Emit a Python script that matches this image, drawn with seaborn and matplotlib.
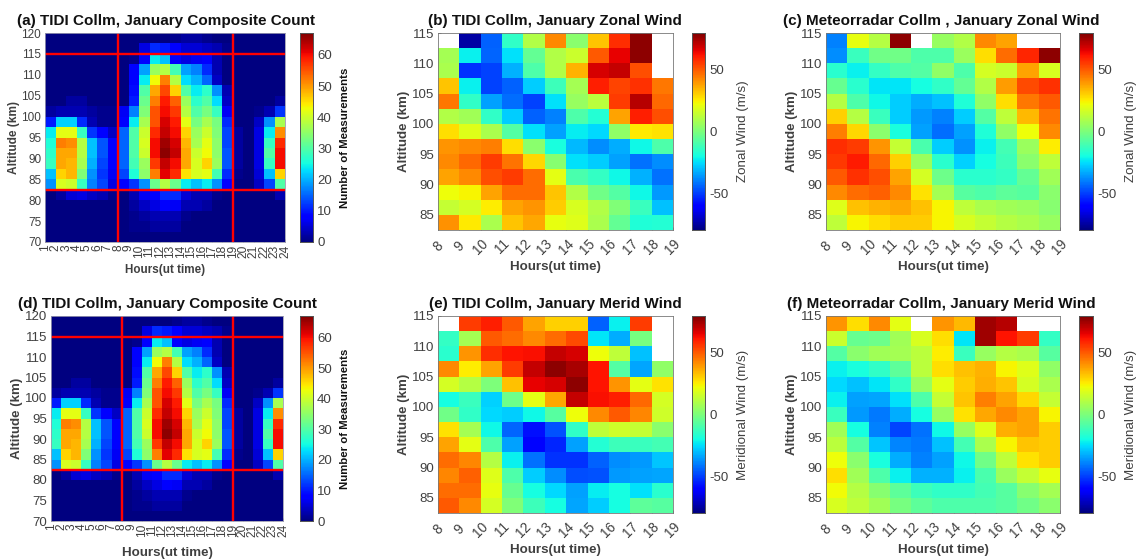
import numpy as np
import matplotlib
matplotlib.use("Agg")
import matplotlib.pyplot as plt
import seaborn as sns

sns.set_style("white")
plt.rcParams['font.family'] = ['Liberation Sans', 'DejaVu Sans']

n = np.nan
hours_count = list(range(1, 25))
hours_wind = list(range(8, 20))
alt_count_edges = [120 - 2.5 * i for i in range(21)]
alt_wind_edges = [115 - 2.5 * i for i in range(14)]
alt_count_ticks = [70, 75, 80, 85, 90, 95, 100, 105, 110, 115, 120]
alt_wind_ticks = [85, 90, 95, 100, 105, 110, 115]
red_hours = [8, 19]
red_alts = [82.5, 115]

# rows run from the top altitude bin downwards; 23 columns of 1-hour bins
count = [
 [0,0,0,0,0,0,0,0,0,0,0,0,1,2,2,1,0,0,0,0,0,0,0],
 [0,0,0,0,0,0,0,0,0,6,11,10,8,5,5,4,3,1,0,0,0,0,0],
 [0,0,0,0,0,0,0,0,1,8,24,21,8,6,7,8,3,0,0,0,0,0,0],
 [0,0,0,0,0,0,0,0,8,19,36,38,29,19,17,11,3,0,0,0,0,0,0],
 [0,0,0,0,0,0,0,0,8,24,43,52,38,23,20,15,4,0,0,0,0,0,0],
 [0,0,0,0,0,0,0,0,9,30,49,56,46,30,24,27,18,3,0,0,0,0,0],
 [0,0,2,2,0,0,0,0,10,32,52,59,54,36,27,30,23,4,0,0,0,0,2],
 [2,3,3,3,2,1,1,7,17,34,55,60,57,38,30,33,28,7,0,0,1,3,12],
 [10,22,22,11,3,1,1,8,24,37,55,62,59,42,33,37,33,11,0,0,4,18,37],
 [24,42,42,28,12,8,4,15,30,40,58,63,60,46,36,40,34,13,2,0,6,24,51],
 [26,52,51,38,21,14,8,15,30,41,60,65,62,48,37,42,35,13,2,0,6,28,58],
 [27,49,49,38,21,14,8,15,30,40,60,66,63,49,40,43,35,14,2,0,6,30,60],
 [28,49,48,37,20,13,8,15,29,36,57,63,60,49,41,46,36,14,2,0,6,28,60],
 [21,46,48,34,18,12,7,13,26,35,52,61,58,45,41,42,29,11,1,0,5,21,46],
 [18,41,40,28,17,13,6,8,12,18,32,38,32,24,21,24,18,8,0,0,4,13,30],
 [0,2,5,6,4,3,1,0,3,7,8,11,11,5,3,3,1,0,0,0,0,0,3],
 [0,0,0,0,0,0,0,0,2,4,6,8,7,3,3,2,0,0,0,0,0,0,0],
 [0,0,0,0,0,0,0,0,1,2,3,3,3,1,0,0,0,0,0,0,0,0,0],
 [0,0,0,0,0,0,0,0,1,1,2,2,2,0,0,0,0,0,0,0,0,0,0],
 [0,0,0,0,0,0,0,0,0,0,0,0,0,0,0,0,0,0,0,0,0,0,0],
]

tidi_zonal = [
 [n,-75,-45,-15,10,42,3,32,58,78,n],
 [8,-22,-44,-25,-5,10,15,50,65,78,n],
 [9,-52,-50,-32,-9,10,35,68,70,52,n],
 [32,-22,-50,-45,-28,-12,8,60,54,57,45],
 [45,-15,-35,-43,-50,-25,5,12,55,72,48],
 [10,7,-15,-28,-45,-40,-9,-17,38,60,52],
 [28,19,9,-8,-25,-35,-23,-26,4,26,27],
 [40,42,44,28,3,-19,-31,-38,-33,-21,-9],
 [42,48,55,46,29,2,-25,-28,-35,-42,-38],
 [38,42,52,55,47,20,-10,-14,-21,-32,-42],
 [22,24,38,47,47,32,10,-2,-8,-21,-36],
 [14,17,25,38,40,31,18,10,1,-13,-30],
 [41,26,9,32,37,21,19,9,-5,-18,-17],
]
radar_zonal = [
 [-40,21,11,78,n,5,10,42,38,n,n],
 [-38,-13,-2,-2,-9,-9,6,28,47,59,78],
 [-16,-22,-14,-9,-8,4,-9,17,15,38,18],
 [-4,-16,-24,-24,-20,-15,-5,10,39,53,57],
 [11,-9,-21,-28,-33,-30,-18,4,28,45,50],
 [30,11,-13,-28,-36,-40,-28,-8,13,34,46],
 [44,29,3,-19,-35,-43,-35,-18,4,22,42],
 [58,55,40,14,-10,-28,-37,-22,-11,6,25],
 [56,61,48,30,6,-16,-27,-20,-12,3,13],
 [50,57,52,38,17,-3,-16,-16,-14,-5,7],
 [42,47,49,42,27,8,-7,-9,-6,-7,3],
 [19,33,35,37,33,24,13,9,7,6,2],
 [13,24,28,31,31,24,18,14,11,9,5],
]
tidi_merid = [
 [n,55,60,50,38,30,30,-45,-22,55,n],
 [-14,8,50,47,42,47,53,-24,-33,-1,n],
 [-16,40,58,62,63,70,68,22,13,-30,n],
 [42,25,38,55,70,78,74,62,-8,-34,4],
 [17,11,0,33,65,68,78,62,40,20,27],
 [-20,-13,-27,-3,20,37,70,63,60,48,17],
 [-2,-15,-26,-28,-21,-7,22,42,50,43,16],
 [27,8,-21,-44,-58,-47,-15,13,16,14,3],
 [38,20,-9,-35,-60,-54,-35,-17,-12,-13,-11],
 [47,43,11,-22,-42,-52,-52,-45,-38,-36,-29],
 [43,49,19,-9,-28,-38,-48,-47,-36,-35,-34],
 [47,47,21,-4,-20,-26,-35,-23,-20,-25,-16],
 [50,42,17,1,-12,-20,-34,-28,-20,-6,-7],
]
radar_merid = [
 [40,28,42,20,n,40,34,75,72,n,n],
 [15,-4,-3,7,18,28,-24,75,62,55,-14],
 [-8,3,7,8,12,25,-13,5,11,9,-7],
 [-22,-19,-15,-6,12,28,33,35,24,19,4],
 [-26,-30,-24,-15,5,20,31,36,32,17,9],
 [-22,-35,-34,-25,-9,14,32,44,38,29,14],
 [-13,-36,-41,-33,-20,5,27,37,42,38,24],
 [7,-20,-40,-49,-42,-21,5,19,36,38,31],
 [12,-8,-29,-39,-41,-30,-11,9,24,32,31],
 [22,3,-19,-33,-40,-35,-21,-2,13,27,31],
 [28,7,-9,-22,-32,-32,-22,-10,6,14,21],
 [23,11,2,-6,-12,-15,-15,-11,-7,2,8],
 [18,13,7,-1,-6,-9,-9,-9,-7,-2,3],
]

W, H = 1136, 559
TC = '#404040'
fig = plt.figure(figsize=(W / 100, H / 100), dpi=100)


def box(l, t, r, b):
    return [l / W, 1 - b / H, (r - l) / W, (b - t) / H]


def panel(rect, crect, data, hours, edges, yticks, title, clabel, vmin, vmax, cticks,
          rot, cl_bold, title_x, ctitle_pad, ytick_fs=9.5, label_fs=9.6, xlabel_fs=9.6, xlabel_pad=3):
    ax = fig.add_axes(box(*rect))
    cax = fig.add_axes(box(*crect))
    sns.heatmap(np.array(data, float), ax=ax, cbar_ax=cax, cmap='jet', vmin=vmin, vmax=vmax,
                xticklabels=False, yticklabels=False, square=False)
    x_pos = [h - hours[0] for h in hours]
    y_pos = [(edges[0] - a) / 2.5 for a in yticks]
    ax.set_xticks(x_pos)
    ax.set_xticklabels(hours, rotation=rot, ha='center', va='top' if rot == 90 else 'center',
                       color=TC, fontsize=8.6 if rot == 90 else 9.8)
    ax.set_yticks(y_pos)
    ax.set_yticklabels(yticks, rotation=0, color=TC, fontsize=ytick_fs)
    ax.tick_params(axis='both', which='major', length=2, width=0.5, direction='in',
                   color='#555555', bottom=True, left=True, pad=2 if rot == 90 else 12)
    ax.tick_params(axis='y', pad=3)
    for s in ax.spines.values():
        s.set_visible(True)
        s.set_linewidth(0.6)
        s.set_color('#9a9ab0' if rot == 90 else '#777777')
    ax.set_xlabel('Hours(ut time)', fontweight='bold', fontsize=xlabel_fs, color=TC,
                  labelpad=xlabel_pad)
    ax.set_ylabel('Altitude (km)', fontweight='bold', fontsize=label_fs, color=TC, labelpad=1)
    fig.text(title_x / W, 1 - (rect[1] - 12) / H, title, fontweight='bold', fontsize=11,
             ha='center', va='center', color='#111111')
    cax.set_yticks(cticks)
    cax.set_yticklabels(cticks, color=TC, fontsize=9.5)
    cax.tick_params(axis='y', length=2, width=0.5, direction='in', color='#555555', pad=3, right=True)
    for s in cax.spines.values():
        s.set_visible(True)
        s.set_linewidth(0.6)
        s.set_color('#555555')
    cax.set_ylabel(clabel, fontweight='bold' if cl_bold else 'normal',
                   fontsize=8.2 if cl_bold else 9.6,
                   color='#111111' if cl_bold else TC, labelpad=ctitle_pad)
    return ax


def red_lines(ax, hours, edges):
    for h in red_hours:
        ax.axvline(h - hours[0], color='red', lw=1.7)
    for a in red_alts:
        ax.axhline((edges[0] - a) / 2.5, color='red', lw=1.7)


a = panel((45.3, 33, 285, 242), (300, 33, 313, 242), count, hours_count, alt_count_edges,
          alt_count_ticks, '(a) TIDI Collm, January Composite Count', 'Number of Measurements',
          0, 67, [0, 10, 20, 30, 40, 50, 60], 90, True, 166, 6,
          ytick_fs=8.5, label_fs=8.6, xlabel_fs=8.4, xlabel_pad=4)
red_lines(a, hours_count, alt_count_edges)
d = panel((51, 316, 283, 521), (300, 316, 313, 521), count, hours_count, alt_count_edges,
          alt_count_ticks, '(d) TIDI Collm, January Composite Count', 'Number of Measurements',
          0, 67, [0, 10, 20, 30, 40, 50, 60], 90, True, 167, 6, xlabel_pad=7)
red_lines(d, hours_count, alt_count_edges)

wt = [-50, 0, 50]
panel((438, 33, 673, 230), (692, 33, 705, 230), tidi_zonal, hours_wind, alt_wind_edges, alt_wind_ticks,
      '(b) TIDI Collm, January Zonal Wind', 'Zonal Wind (m/s)', -80, 80, wt, 45, False, 555, 6)
panel((826, 33, 1060, 230), (1079, 33, 1093, 230), radar_zonal, hours_wind, alt_wind_edges, alt_wind_ticks,
      '(c) Meteorradar Collm , January Zonal Wind', 'Zonal Wind (m/s)', -80, 80, wt, 45, False, 941, 6)
panel((438, 316, 673, 513), (692, 316, 705, 513), tidi_merid, hours_wind, alt_wind_edges, alt_wind_ticks,
      '(e) TIDI Collm, January Merid Wind', 'Meridional Wind (m/s)', -80, 80, wt, 45, False, 555, 6)
panel((826, 316, 1060, 513), (1079, 316, 1093, 513), radar_merid, hours_wind, alt_wind_edges, alt_wind_ticks,
      '(f) Meteorradar Collm, January Merid Wind', 'Meridional Wind (m/s)', -80, 80, wt, 45, False, 941, 6)

fig.savefig('out.png', dpi=100)
